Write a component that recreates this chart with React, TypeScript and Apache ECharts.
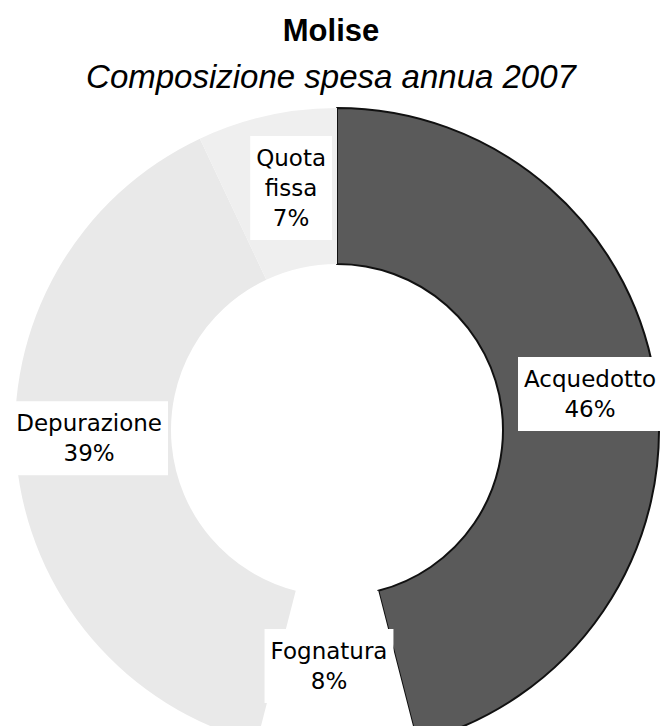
import React, { useEffect, useRef } from "react";
import * as echarts from "echarts";

const titleText = "Molise";
const subtitleText = "Composizione spesa annua 2007";
const categories = ["Acquedotto", "Fognatura", "Depurazione", "Quota fissa"];
const shares = [46, 8, 39, 7];
const sliceColors = ["#5a5a5a", "#ffffff", "#e9e9e9", "#efefef"];
const sliceBorders = ["#111111", "#ffffff", "#e9e9e9", "#efefef"];
const labelShift = [
  { dx: 8, dy: -5 },
  { dx: -8, dy: -11 },
  { dx: -2, dy: -15 },
  { dx: 8, dy: -1 },
];

export default function App() {
  const ref = useRef<HTMLDivElement>(null);
  useEffect(() => {
    if (!ref.current) return;
    const chart = echarts.init(ref.current, null, { renderer: "svg" });
    chart.setOption({
      animation: false,
      backgroundColor: "#ffffff",
      title: [
        {
          text: titleText,
          left: "center",
          top: 10,
          textStyle: {
            fontFamily: "Liberation Sans, Arial, sans-serif",
            fontWeight: "bold",
            fontSize: 31,
            color: "#000",
          },
        },
        {
          text: subtitleText,
          left: "center",
          top: 55,
          textStyle: {
            fontFamily: "Liberation Sans, Arial, sans-serif",
            fontStyle: "italic",
            fontWeight: "normal",
            fontSize: 33,
            color: "#000",
          },
        },
      ],
      series: [
        {
          type: "pie",
          center: [337, 430],
          radius: [166, 322],
          startAngle: 90,
          clockwise: true,
          avoidLabelOverlap: false,
          data: categories.map((name, i) => ({
            name,
            value: shares[i],
            itemStyle: {
              color: sliceColors[i],
              borderColor: sliceBorders[i],
              borderWidth: i === 0 ? 2 : 0,
            },
          })),
          label: {
            show: true,
            position: "inside",
            formatter: (p: any) => `${String(p.name).replace(" ", "\n")}\n${p.value}%`,
            fontFamily: "DejaVu Sans, Verdana, sans-serif",
            fontSize: 23,
            lineHeight: 30,
            color: "#000",
            backgroundColor: "#ffffff",
            padding: [7, 6],
            align: "center",
          },
          labelLayout: (params: any) => labelShift[params.dataIndex],
          labelLine: { show: false },
          emphasis: { disabled: true },
        },
      ],
    });
    return () => chart.dispose();
  }, []);
  return (
    <div
      ref={ref}
      style={{ position: "fixed", left: 0, top: 0, width: 662, height: 726 }}
    />
  );
}
